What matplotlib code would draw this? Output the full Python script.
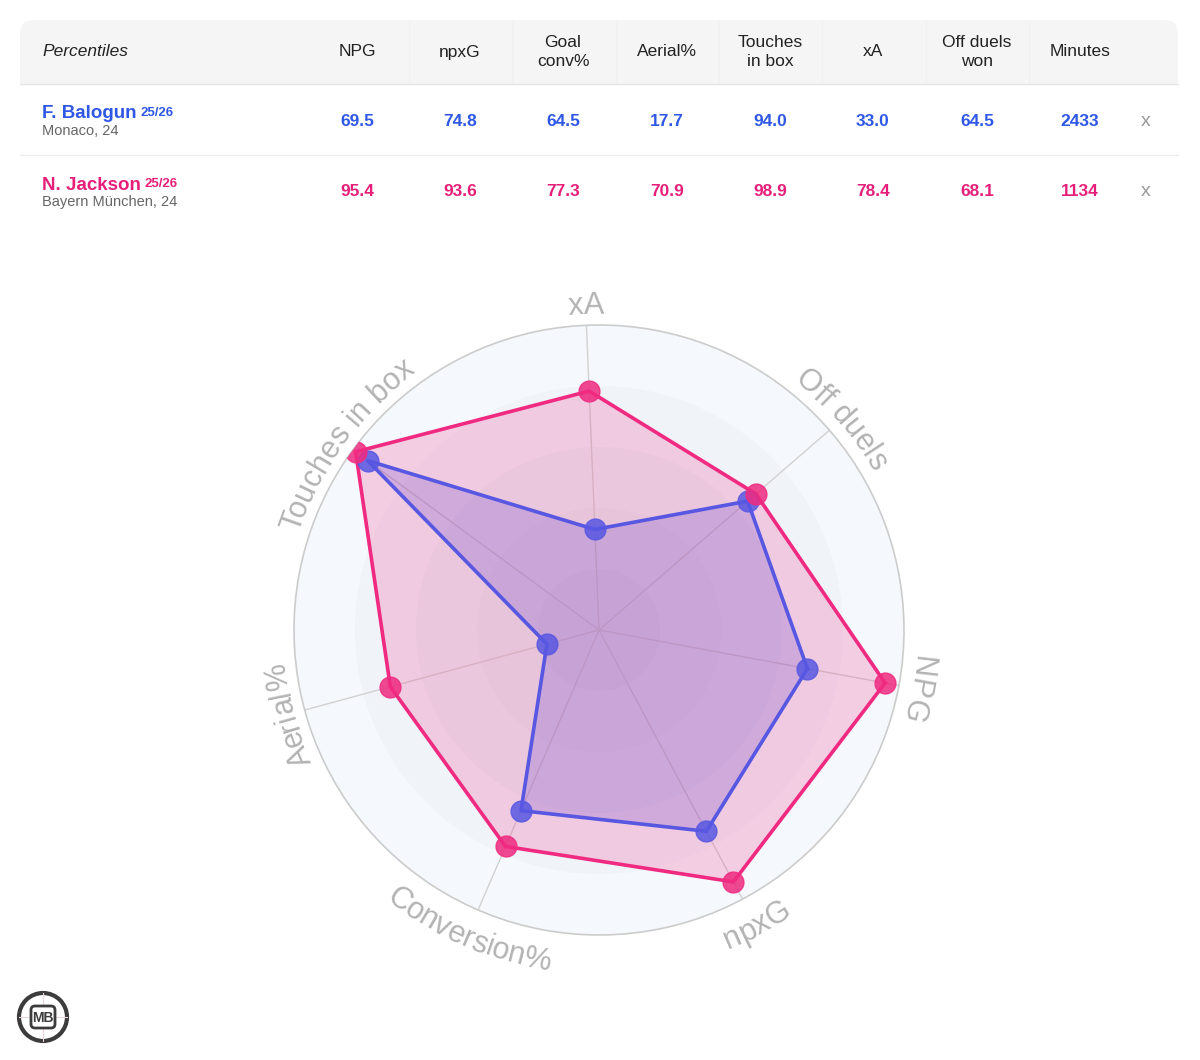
import numpy as np
import matplotlib
matplotlib.use('Agg')
import matplotlib.pyplot as plt
from matplotlib.patches import FancyBboxPatch, Circle, Rectangle
from matplotlib.font_manager import FontProperties

plt.rcParams['font.family'] = ['Liberation Sans', 'DejaVu Sans']

# table + radar data
col_heads = ['NPG', 'npxG', 'Goal\nconv%', 'Aerial%', 'Touches\nin box', 'xA', 'Off duels\nwon', 'Minutes']
radar_labels = ['NPG', 'npxG', 'Conversion%', 'Aerial%', 'Touches in box', 'xA', 'Off duels']
players = ['F. Balogun', 'N. Jackson']
season = '25/26'
clubs = ['Monaco, 24', 'Bayern München, 24']
balogun = [69.5, 74.8, 64.5, 17.7, 94.0, 33.0, 64.5]
jackson = [95.4, 93.6, 77.3, 70.9, 98.9, 78.4, 68.1]
minutes = [2433, 1134]

blue_txt = '#2f58e6'
pink_txt = '#e6207a'
blue = '#5757e2'
pink = '#ef2a80'

fig = plt.figure(figsize=(12, 10.6), dpi=100)
fig.patch.set_facecolor('white')

# pixel overlay for table, labels, logo
bg = fig.add_axes([0, 0, 1, 1])
bg.set_xlim(0, 1200)
bg.set_ylim(1060, 0)
bg.axis('off')

# header band
bg.add_patch(FancyBboxPatch((20, 20), 1158, 64, boxstyle='round,pad=0,rounding_size=14',
                            fc='#f5f5f5', ec='none', zorder=0))
bg.add_patch(Rectangle((20, 60), 1158, 24, fc='#f5f5f5', ec='none', zorder=0))
bg.plot([20, 1178], [84, 84], color='#e6e6e6', lw=1, zorder=1)
bg.plot([20, 1178], [155, 155], color='#eeeeee', lw=1, zorder=1)
for sx in [409, 512, 616, 719, 822, 926, 1029]:
    bg.plot([sx, sx], [22, 83], color='#f0f0f0', lw=1, zorder=1)

bg.text(42, 52, 'Percentiles', fontsize=12.5, style='italic', color='#222222', va='center', ha='left')
col_x = [357, 460, 563, 667, 770, 873, 977, 1080]
for x, h in zip(col_x, col_heads):
    bg.text(x, 52, h, fontsize=12.5, color='#222222', ha='center', va='center', linespacing=1.35)

rows_y = [121, 192]
for y, name, club, vals, mins, c in zip(rows_y, players, clubs, [balogun, jackson], minutes, [blue_txt, pink_txt]):
    t = bg.text(42, y - 7, name, fontsize=13.5, fontweight='bold', color=c, ha='left', va='center')
    fig.canvas.draw()
    bb = t.get_window_extent()
    bg.text(42 + bb.width + 4, y - 8, season, fontsize=9.5, fontweight='bold', color=c, ha='left', va='center')
    bg.text(42, y + 10, club, fontsize=10.5, color='#666666', ha='left', va='center')
    for x, v in zip(col_x, vals + [mins]):
        s = f'{v:.1f}' if isinstance(v, float) else str(v)
        bg.text(x, y, s, fontsize=12.5, fontweight='bold', color=c, ha='center', va='center')
    bg.text(1146, y, 'x', fontsize=14, color='#999999', ha='center', va='center')

# radar
cx, cy, R = 599, 630, 305
ax = fig.add_axes([(cx - R) / 1200, (1060 - cy - R) / 1060, 2 * R / 1200, 2 * R / 1060], projection='polar')
offset_deg = -10.5
ax.set_theta_direction(-1)
ax.set_theta_offset(np.deg2rad(offset_deg))
ax.set_ylim(0, 100)
ax.set_xticks([])
ax.set_yticks([])
ax.grid(False)
ax.patch.set_alpha(0)
ax.spines['polar'].set_color('#cccccc')
ax.spines['polar'].set_linewidth(1.2)

n = len(radar_labels)
theta = np.arange(n) * 2 * np.pi / n
full = np.linspace(0, 2 * np.pi, 400)
shades = ['#f5f8fc', '#f0f3f8', '#ebeff5', '#e7ebf2', '#e3e7ef']
for r, c in zip([100, 80, 60, 40, 20], shades):
    ax.fill(full, np.full_like(full, r), color=c, lw=0, zorder=0)
for t in theta:
    ax.plot([t, t], [0, 100], color='#d2d2d2', lw=1, zorder=1)

tc = np.append(theta, theta[0])
b = np.append(balogun, balogun[0])
j = np.append(jackson, jackson[0])
ax.fill(tc, b, color=blue, alpha=0.26, lw=0, zorder=2)
ax.fill(tc, j, color=pink, alpha=0.2, lw=0, zorder=2)
ax.plot(tc, b, color=blue, lw=2.6, zorder=3)
ax.plot(tc, j, color=pink, lw=2.6, zorder=3)
ax.plot(theta, balogun, 'o', color=blue, ms=15, alpha=0.85, mec=blue, zorder=4)
ax.plot(theta, jackson, 'o', color=pink, ms=15, alpha=0.85, mec=pink, zorder=5)

# curved axis labels
fp = FontProperties(family='Liberation Sans', size=22)
renderer = fig.canvas.get_renderer()


def tw(s):
    w, h, d = renderer.get_text_width_height_descent(s, fp, ismath=False)
    return w


for i, lab in enumerate(radar_labels):
    phi0 = np.deg2rad(offset_deg - i * 360 / n)
    inward = np.sin(phi0) < -0.5
    total = tw(lab)
    rb = 344 if inward else 316
    for k, ch in enumerate(lab):
        if ch == ' ':
            continue
        s = tw(lab[:k + 1]) - tw(ch) / 2 - total / 2
        if inward:
            phi = phi0 + s / rb
            rot = np.rad2deg(phi) + 90
        else:
            phi = phi0 - s / rb
            rot = np.rad2deg(phi) - 90
        bg.text(cx + rb * np.cos(phi), cy - rb * np.sin(phi), ch, fontproperties=fp,
                color='#b3b3b3', rotation=rot, rotation_mode='anchor', ha='center', va='baseline')

# logo
bg.add_patch(Circle((43, 1017), 24, fc='white', ec='#3c3c3c', lw=3, zorder=2))
bg.plot([19, 67], [1017, 1017], color='#ecd2dc', lw=0.8, zorder=2)
bg.plot([43, 43], [993, 1041], color='#ecd2dc', lw=0.8, zorder=2)
bg.add_patch(FancyBboxPatch((31, 1006), 24, 22, boxstyle='round,pad=0,rounding_size=4',
                            fc='white', ec='#3c3c3c', lw=2, zorder=3))
bg.text(43, 1018, 'MB', fontsize=10, fontweight='bold', color='#3c3c3c', ha='center', va='center', zorder=4)

fig.savefig('out.png', dpi=100)
